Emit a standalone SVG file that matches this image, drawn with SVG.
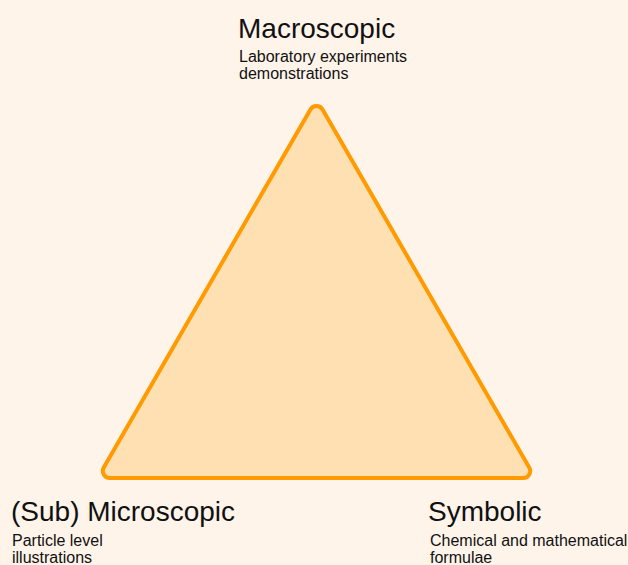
<svg xmlns="http://www.w3.org/2000/svg" width="628" height="565" viewBox="0 0 628 565">
<style>
.title{font-family:"Liberation Sans",Arial,sans-serif;font-size:28px;fill:#111}
.sub{font-family:"Liberation Sans",Arial,sans-serif;font-size:16px;fill:#111}
.tri{fill:#FFE0B3;stroke:#FF9A00;stroke-width:4;stroke-linejoin:round}
</style>
<rect x="0" y="0" width="628" height="565" fill="#FFF4EA"/>
<g id="connectors">
<path class="tri" d="M 310.44 109.5 A 7 7 0 0 1 322.56 109.5 L 529.24 467.5 A 7 7 0 0 1 523.18 478 L 109.82 478 A 7 7 0 0 1 103.76 467.5 Z"/>
</g>
<g id="macroscopic">
<text class="title" x="238" y="38">Macroscopic</text>
<text class="sub" x="239" y="62">Laboratory experiments</text>
<text class="sub" x="239" y="79">demonstrations</text>
</g>
<g id="microscopic">
<text class="title" x="11" y="521">(Sub) Microscopic</text>
<text class="sub" x="12" y="546">Particle level</text>
<text class="sub" x="12" y="563">illustrations</text>
</g>
<g id="symbolic">
<text class="title" x="428" y="521">Symbolic</text>
<text class="sub" x="430" y="546">Chemical and mathematical</text>
<text class="sub" x="430" y="563">formulae</text>
</g>
</svg>
